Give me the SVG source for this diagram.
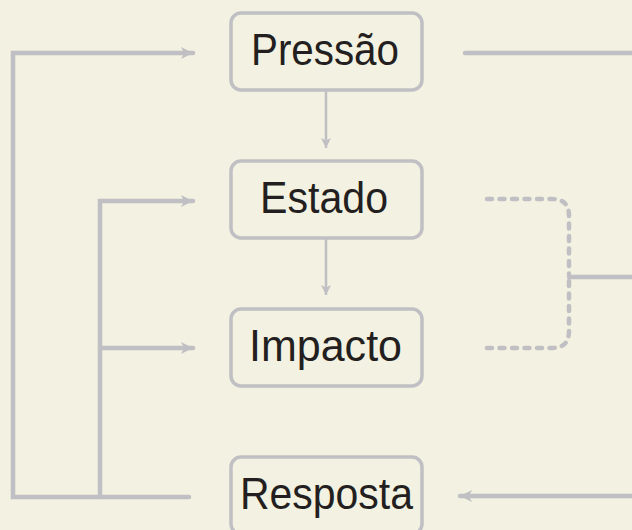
<svg xmlns="http://www.w3.org/2000/svg" width="632" height="530" viewBox="0 0 632 530">
<style>
.box{fill:#f3f1e1;stroke:#c0c0c4;stroke-width:3.5}
.lbl{font-family:"Liberation Sans",Arial,sans-serif;font-size:44px;fill:#231f20;text-anchor:middle}
.c{fill:none;stroke:#c0c0c4;stroke-width:4.5;stroke-linecap:round;stroke-linejoin:miter}
.thin{fill:none;stroke:#c0c0c4;stroke-width:2.5}
.dash{fill:none;stroke:#c0c0c4;stroke-width:4.5;stroke-linecap:round;stroke-dasharray:5 7.5}
</style>
<defs>
<marker id="ah" viewBox="0 0 12 12" refX="12" refY="6" markerWidth="12" markerHeight="12" markerUnits="userSpaceOnUse" orient="auto">
<path d="M0,0 L12,6 L0,12 L3,6 Z" fill="#c0c0c4"/>
</marker>
<marker id="ahs" viewBox="0 0 10 10" refX="10" refY="5" markerWidth="10" markerHeight="10" markerUnits="userSpaceOnUse" orient="auto">
<path d="M0,0 L10,5 L0,10 L2.5,5 Z" fill="#c0c0c4"/>
</marker>
</defs>
<rect width="632" height="530" fill="#f3f1e1"/>
<g id="connectors">
<path class="thin" d="M326,90 V148" marker-end="url(#ahs)"/>
<path class="thin" d="M326,238 V295" marker-end="url(#ahs)"/>
<path class="c" d="M189,497 H13 V53 H193" marker-end="url(#ah)"/>
<path class="c" d="M100,497 V201 H193" marker-end="url(#ah)"/>
<path class="c" d="M100,348 H193" marker-end="url(#ah)"/>
<path class="c" d="M465,53 H640"/>
<path class="c" d="M640,496 H460" marker-end="url(#ah)"/>
<path class="dash" d="M487,199 H552 Q569,199 569,216 V274"/>
<path class="dash" d="M487,348 H552 Q569,348 569,331 V280"/>
<path class="c" d="M569,277 H640"/>
</g>
<g id="pressao">
<rect class="box" x="231" y="13" width="191" height="77" rx="10"/>
<text class="lbl" x="325" y="65" textLength="148" lengthAdjust="spacingAndGlyphs">Pressão</text>
</g>
<g id="estado">
<rect class="box" x="231" y="161" width="191" height="77" rx="10"/>
<text class="lbl" x="324" y="213" textLength="128" lengthAdjust="spacingAndGlyphs">Estado</text>
</g>
<g id="impacto">
<rect class="box" x="231" y="309" width="191" height="77" rx="10"/>
<text class="lbl" x="325.5" y="361" textLength="153" lengthAdjust="spacingAndGlyphs">Impacto</text>
</g>
<g id="resposta">
<rect class="box" x="231" y="457" width="191" height="77" rx="10"/>
<text class="lbl" x="326.5" y="509" textLength="173" lengthAdjust="spacingAndGlyphs">Resposta</text>
</g>
</svg>
